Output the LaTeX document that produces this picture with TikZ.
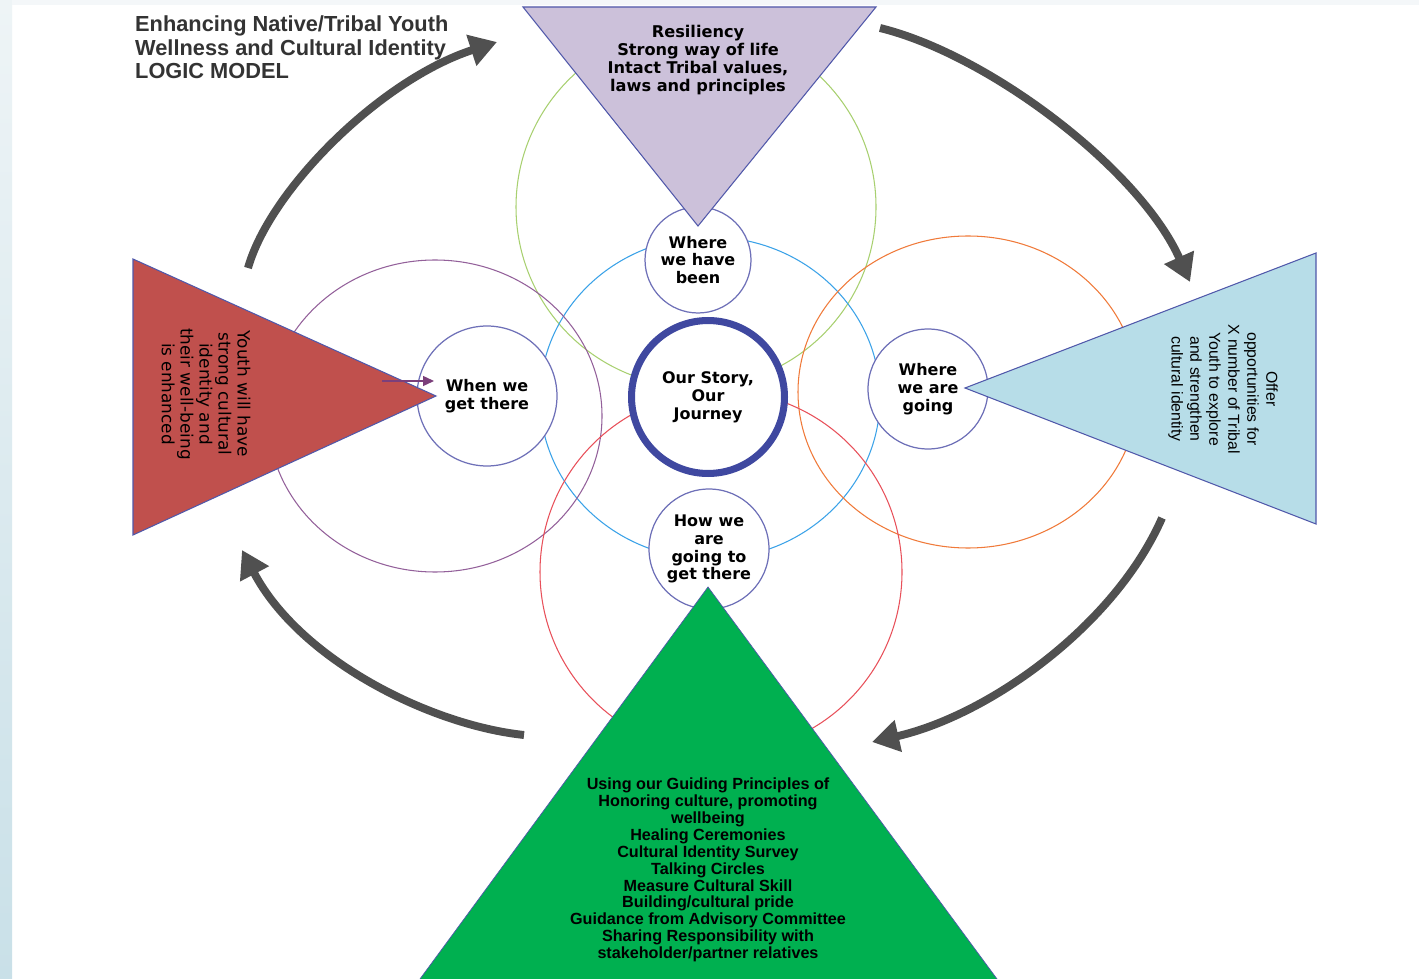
\documentclass[tikz,border=0pt]{standalone}
\usepackage{fontspec}
\newfontfamily\verd{DejaVu Sans}
\newfontfamily\arial{Liberation Sans}
\usetikzlibrary{arrows.meta}

\definecolor{stripA}{HTML}{EEF4F6}
\definecolor{stripB}{HTML}{C9E0E8}
\definecolor{topstrip}{HTML}{F4F7F9}
\definecolor{ringgreen}{HTML}{A8D070}
\definecolor{ringblue}{HTML}{3AA2E8}
\definecolor{ringorange}{HTML}{F07A3A}
\definecolor{ringpurple}{HTML}{93609A}
\definecolor{ringred}{HTML}{E8505A}
\definecolor{spotline}{HTML}{6E70B8}
\definecolor{storyline}{HTML}{3F48A0}
\definecolor{edgeblue}{HTML}{5058AA}
\definecolor{lilac}{HTML}{CCC1DA}
\definecolor{paleblue}{HTML}{B7DDE8}
\definecolor{brick}{HTML}{C0504D}
\definecolor{leafgreen}{HTML}{00B050}
\definecolor{cyclegrey}{HTML}{505050}
\definecolor{titlegrey}{HTML}{333333}
\definecolor{smallarrow}{HTML}{7B3F7B}

\tikzset{
  ring/.style={line width=0.6pt},
  spot/.style={circle,draw=spotline,fill=white,line width=0.7pt,inner sep=0pt,align=center,
    font=\verd\bfseries\fontsize{9.1}{10.2}\selectfont},
  wedge/.style={draw=edgeblue,line width=0.6pt},
  cyclearrow/.style={draw=cyclegrey,line width=4.5pt,-{Triangle[length=0.54cm,width=0.62cm]}},
}

\begin{document}
\begin{tikzpicture}[x=0.02cm,y=-0.02cm]
\useasboundingbox (0,0) rectangle (1419,979);
\fill[white] (0,0) rectangle (1419,979);
\shade[top color=stripA,bottom color=stripB] (0,0) rectangle (12,979);
\fill[topstrip] (12,0) rectangle (1419,5);

% big rings
\draw[ring,ringgreen] (696,207) circle [radius=180];
\draw[ring,ringblue] (710,398) ellipse [x radius=170, y radius=161];
\draw[ring,ringorange] (968,392) ellipse [x radius=170, y radius=156];
\draw[ring,ringpurple] (435,416) ellipse [x radius=167, y radius=156];
\draw[ring,ringred] (721,572) circle [radius=181];

% small circles
\node[spot,minimum size=2.12cm] (been) at (698,260) {Where\\we have\\been};
\node[spot,minimum size=2.8cm] (there) at (487,396) {When we\\get there};
\node[spot,minimum size=2.4cm] (going) at (928,389) {Where\\we are\\going};
\node[spot,minimum size=2.4cm] (how) at (709,549) {How we\\are\\going to\\get there};
\node[spot,draw=storyline,line width=4pt,minimum size=3.06cm] (story) at (708,397) {Our Story,\\Our\\Journey};

% triangles
\draw[wedge,fill=lilac] (523,7) -- (876,7) -- (698,226) -- cycle;
\draw[wedge,fill=paleblue] (1316,253) -- (1316,524) -- (965,388) -- cycle;
\draw[wedge,fill=brick] (133,259) -- (133,535) -- (436,396) -- cycle;
\draw[wedge,fill=leafgreen,line width=0.4pt] (420,979) -- (708,587) -- (997,979);

\node[align=center,font=\verd\bfseries\fontsize{9.2}{10.2}\selectfont] (resil) at (698,60)
  {Resiliency\\Strong way of life\\Intact Tribal values,\\laws and principles};
\node[rotate=-90,align=center,font=\arial\fontsize{9}{10.8}\selectfont] (offer) at (1223,389)
  {Offer\\opportunities for\\X number of Tribal\\Youth to explore\\and strengthen\\cultural identity};
\node[rotate=-90,align=center,font=\verd\fontsize{9.6}{10.8}\selectfont] (youth) at (206,394)
  {Youth will have\\strong cultural\\identity and\\their well-being\\is enhanced};
\node[align=center,font=\arial\bfseries\fontsize{9.2}{9.6}\selectfont] (guide) at (708,870)
  {Using our Guiding Principles of\\Honoring culture, promoting\\wellbeing\\Healing Ceremonies\\
   Cultural Identity Survey\\Talking Circles\\Measure Cultural Skill\\Building/cultural pride\\
   Guidance from Advisory Committee\\Sharing Responsibility with\\stakeholder/partner relatives};

\node[anchor=north west,align=left,text=titlegrey,font=\arial\bfseries\fontsize{12.4}{13.1}\selectfont] (title) at (129,10)
  {Enhancing Native/Tribal Youth\\Wellness and Cultural Identity\\LOGIC MODEL};

% cycle arrows
\coordinate (c1s) at (248,268);
\coordinate (c1e) at (497,42);
\coordinate (c2s) at (880,28);
\coordinate (c2e) at (1190,282);
\coordinate (c3s) at (1162,518);
\coordinate (c3e) at (872,742);
\coordinate (c4s) at (524,735);
\coordinate (c4e) at (242,550);
\draw[cyclearrow] (c1s) .. controls (270,190) and (380,80) .. (c1e);
\draw[cyclearrow] (c2s) .. controls (990,55) and (1140,170) .. (c2e);
\draw[cyclearrow] (c3s) .. controls (1115,625) and (990,715) .. (c3e);
\draw[cyclearrow] (c4s) .. controls (430,725) and (300,660) .. (c4e);

\coordinate (pin) at (382,381);
\coordinate (pout) at (434,381);
\draw[smallarrow,line width=0.8pt,-{Triangle[length=0.22cm,width=0.2cm]}] (pin) -- (pout);

\end{tikzpicture}
\end{document}
